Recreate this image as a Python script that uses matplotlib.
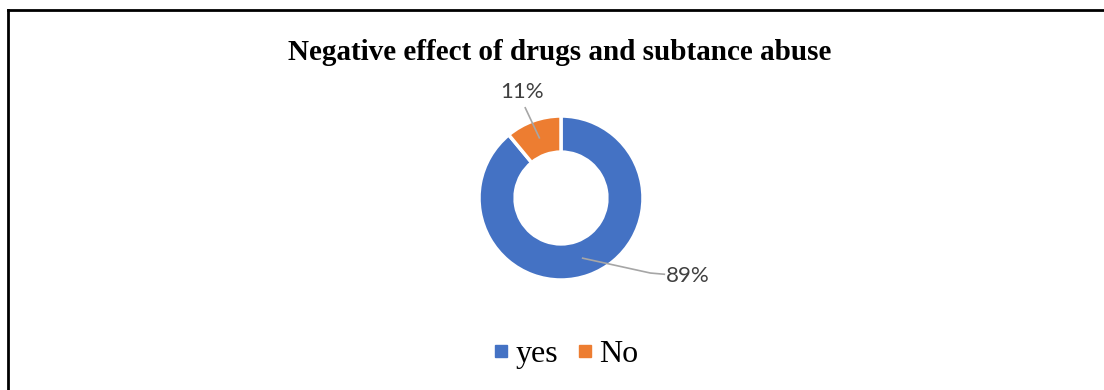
import numpy as np
import matplotlib.pyplot as plt
from matplotlib.lines import Line2D

labels = ['yes', 'No']
values = [89, 11]
colors = ['#4472C4', '#ED7D31']
title = 'Negative effect of drugs and subtance abuse'

W, H = 1104, 390
fig = plt.figure(figsize=(W / 100, H / 100), dpi=100)

# outer frame (top and left edges only)
fig.add_artist(Line2D([8 / W, 1], [1 - 10 / H, 1 - 10 / H], color='black', lw=2))
fig.add_artist(Line2D([8 / W, 8 / W], [0, 1 - 10 / H], color='black', lw=2))

fig.text(560 / W, 1 - 52 / H, title, ha='center', va='center',
         fontsize=21, fontweight='bold', family='Liberation Serif')

cx, cy, r = 561, 198, 82
ax = fig.add_axes([(cx - r) / W, (H - cy - r) / H, 2 * r / W, 2 * r / H])
wedges, _ = ax.pie(values, colors=colors, startangle=90, counterclock=False,
                   radius=1, wedgeprops=dict(width=0.44, edgecolor='white', linewidth=2.5))
ax.set_xlim(-1, 1)
ax.set_ylim(-1, 1)
ax.set_aspect('equal')
ax.axis('off')

# data labels with leader lines
label_pos = [(1.54, -0.95), (-0.476, 1.29)]
for w, v, (lx, ly) in zip(wedges, values, label_pos):
    mid = np.deg2rad((w.theta1 + w.theta2) / 2)
    px, py = 0.78 * np.cos(mid), 0.78 * np.sin(mid)
    if lx > 0:
        xs = [px, lx - 0.45, lx - 0.28]
        ys = [py, ly + 0.035, ly + 0.02]
    else:
        xs = [px, lx + 0.04]
        ys = [py, ly - 0.19]
    ax.plot(xs, ys, color='#A6A6A6', lw=1.2, clip_on=False)
    ax.text(lx, ly, f'{v}%', ha='center', va='center', fontsize=16,
            color='#404040', family='Lato', clip_on=False)

handles = [Line2D([], [], marker='s', ls='none', color=c, markersize=8) for c in colors]
fig.legend(handles, labels, loc='center', bbox_to_anchor=(565 / W, 1 - 354 / H),
           ncol=2, frameon=False, prop=dict(family='Liberation Serif', size=23),
           handletextpad=0.15, columnspacing=0.55, handlelength=0.6)

fig.savefig('out.png', dpi=100)
